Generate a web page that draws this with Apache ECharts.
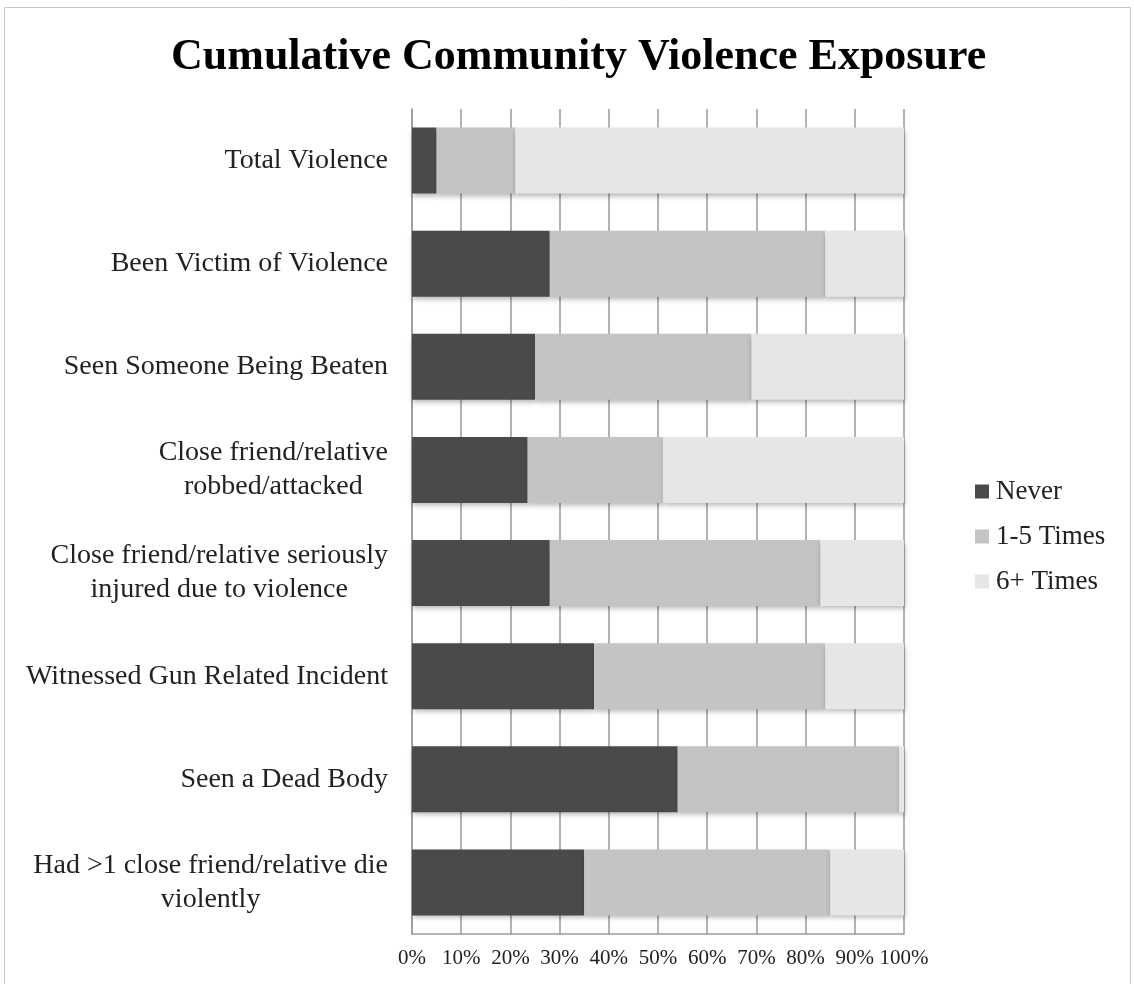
<!DOCTYPE html>
<html>
<head>
<meta charset="utf-8">
<script src="https://cdn.jsdelivr.net/npm/echarts@6/dist/echarts.min.js"></script>
<style>
html,body{margin:0;padding:0;background:#fff;}
#chart{width:1134px;height:984px;}
</style>
</head>
<body>
<div id="chart"></div>
<script>
const categories = [
  'Total Violence',
  'Been Victim of Violence',
  'Seen Someone Being Beaten',
  'Close friend/relative\nrobbed/attacked',
  'Close friend/relative seriously\ninjured due to violence',
  'Witnessed Gun Related Incident',
  'Seen a Dead Body',
  'Had >1 close friend/relative die\nviolently'
];
const seriesNames = ['Never', '1-5 Times', '6+ Times'];
const never     = [5, 28, 25, 23.5, 28, 37, 54, 35];
const oneToFive = [16, 56, 44, 27.5, 55, 47, 45, 50];
const sixPlus   = [79, 16, 31, 49, 17, 16, 1, 15];
const xTicks = [0, 10, 20, 30, 40, 50, 60, 70, 80, 90, 100];

const colors = ['#4a4a4a', '#c4c4c4', '#e6e6e6'];
const FONT = 'Liberation Serif';

const chart = echarts.init(document.getElementById('chart'));
const barStyle = (c) => ({
  color: c,
  shadowColor: 'rgba(0,0,0,0.28)',
  shadowBlur: 5,
  shadowOffsetX: 1,
  shadowOffsetY: 3
});
const data = [never, oneToFive, sixPlus];
chart.setOption({
  backgroundColor: '#fff',
  animation: false,
  graphic: [{
    type: 'rect',
    shape: {x: 4.5, y: 7.5, width: 1126, height: 990},
    style: {fill: 'none', stroke: '#c8c8c8', lineWidth: 1}
  }],
  title: {
    text: 'Cumulative Community Violence Exposure',
    left: 166,
    top: 31,
    textStyle: {fontFamily: FONT, fontWeight: 'bold', fontSize: 44, color: '#000'}
  },
  legend: {
    orient: 'vertical',
    left: 970,
    top: 473,
    itemWidth: 14,
    itemHeight: 14,
    itemGap: 18,
    icon: 'rect',
    data: seriesNames,
    textStyle: {fontFamily: FONT, fontSize: 27, color: '#222', padding: [0, 0, 0, 2]}
  },
  grid: {left: 412, right: 230, top: 109, bottom: 50, containLabel: false},
  xAxis: {
    type: 'value',
    min: xTicks[0],
    max: xTicks[xTicks.length - 1],
    interval: 10,
    axisLine: {show: true, lineStyle: {color: '#9a9a9a', width: 1.5}},
    axisTick: {show: false},
    splitLine: {show: true, lineStyle: {color: '#9a9a9a', width: 1.5}},
    axisLabel: {
      formatter: '{value}%',
      fontFamily: FONT, fontSize: 21, color: '#222', margin: 14
    }
  },
  yAxis: {
    type: 'category',
    inverse: true,
    data: categories,
    axisLine: {show: true, lineStyle: {color: '#9a9a9a', width: 1.5}},
    axisTick: {show: false},
    splitLine: {show: false},
    axisLabel: {
      margin: 24,
      align: 'right',
      formatter: (v) => v.split('\n').map(l => '{c|' + l + '}').join('\n'),
      rich: {
        c: {align: 'center', fontFamily: FONT, fontSize: 28, color: '#222', lineHeight: 34}
      }
    }
  },
  series: seriesNames.map((name, i) => ({
    name: name,
    type: 'bar',
    stack: 'total',
    barCategoryGap: '36%',
    itemStyle: barStyle(colors[i]),
    data: data[i]
  })),
  color: colors
});
</script>
</body>
</html>
